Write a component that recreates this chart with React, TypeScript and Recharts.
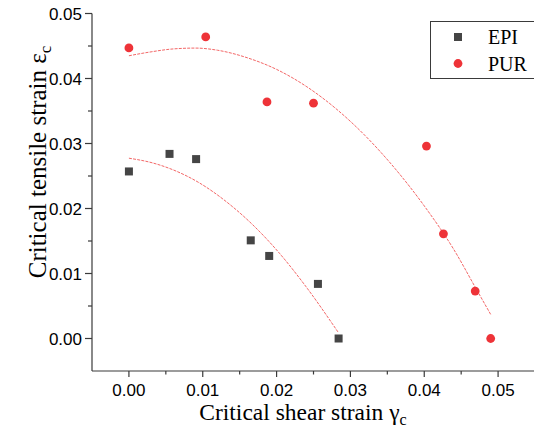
import React from 'react';
import { ScatterChart, Scatter, XAxis, YAxis, Legend } from 'recharts';

// measured points
const epiShear = [0, 0.0055, 0.0091, 0.0165, 0.019, 0.0256, 0.0284];
const epiTensile = [0.0257, 0.0284, 0.0276, 0.0151, 0.0127, 0.0084, 0.0];
const purShear = [0, 0.0104, 0.0187, 0.025, 0.0403, 0.0426, 0.0469, 0.049];
const purTensile = [0.0447, 0.0464, 0.0364, 0.0362, 0.0296, 0.0161, 0.0073, 0.0];

// fitted curves
const epiFitShear = [0, 0.00325, 0.006, 0.0096, 0.0132, 0.0168, 0.0204, 0.024, 0.0284];
const epiFitTensile = [0.02774, 0.027, 0.02594, 0.0239, 0.02104, 0.01746, 0.0131, 0.00795, 0.00086];
const purFitShear = [0, 0.003, 0.006, 0.009, 0.012, 0.016, 0.02, 0.024, 0.028, 0.032, 0.036, 0.04, 0.044, 0.047, 0.049];
const purFitTensile = [0.0435, 0.0441, 0.04455, 0.04468, 0.04435, 0.0432, 0.0414, 0.0388, 0.0354, 0.0312, 0.0262, 0.0204, 0.0137, 0.0077, 0.0037];

const xTicks = [0, 0.005, 0.01, 0.015, 0.02, 0.025, 0.03, 0.035, 0.04, 0.045, 0.05, 0.055];
const yTicks = [0, 0.005, 0.01, 0.015, 0.02, 0.025, 0.03, 0.035, 0.04, 0.045, 0.05];

const zip = (xs: number[], ys: number[]) => xs.map((x, i) => ({ x, y: ys[i] }));

const epiData = zip(epiShear, epiTensile);
const purData = zip(purShear, purTensile);
const epiFit = zip(epiFitShear, epiFitTensile);
const purFit = zip(purFitShear, purFitTensile);

const AXIS = '#3a3a3a';
const GRAY = '#454545';
const RED = '#ee3338';
const FIT = '#f05555';
const SANS = '"Liberation Sans", Arial, sans-serif';
const SERIF = '"Liberation Serif", "Times New Roman", serif';

const isMajor = (v: number) => Math.round(v * 1000) % 10 === 0;

const XTick = (props: any) => {
  const { x, y, payload } = props;
  const major = isMajor(payload.value);
  return (
    <g>
      <line x1={x} x2={x} y1={y} y2={y + (major ? 6 : 3.5)} stroke={AXIS} strokeWidth={1.2} />
      {major && (
        <text x={x} y={y + 24.5} textAnchor="middle" fontFamily={SANS} fontSize={17} fill="#000">
          {payload.value.toFixed(2)}
        </text>
      )}
    </g>
  );
};

const YTick = (props: any) => {
  const { x, y, payload } = props;
  const major = isMajor(payload.value);
  return (
    <g>
      <line x1={x - (major ? 7 : 4)} x2={x} y1={y} y2={y} stroke={AXIS} strokeWidth={1.2} />
      {major && (
        <text x={x - 10} y={y + 6.5} textAnchor="end" fontFamily={SANS} fontSize={17} fill="#000">
          {payload.value.toFixed(2)}
        </text>
      )}
    </g>
  );
};

const Square = (props: any) => (
  <rect x={props.cx - 4} y={props.cy - 4} width={8} height={8} fill={GRAY} />
);
const Dot = (props: any) => <circle cx={props.cx} cy={props.cy} r={4.4} fill={RED} />;
const NoMark = () => <g />;

const LegendBox = () => (
  <svg width={106} height={60} style={{ display: 'block' }}>
    <rect x={0.5} y={0.5} width={110} height={57} fill="#fff" stroke={AXIS} strokeWidth={1} />
    <rect x={24} y={12} width={8} height={8} fill={GRAY} />
    <text x={58} y={23} fontFamily={SERIF} fontSize={20} fill="#000">EPI</text>
    <circle cx={28} cy={42.5} r={4.4} fill={RED} />
    <text x={58} y={49.5} fontFamily={SERIF} fontSize={20} fill="#000">PUR</text>
  </svg>
);

export default function App() {
  return (
    <div style={{ position: 'absolute', left: 0, top: 0, width: 534, height: 444, overflow: 'hidden', background: '#fff' }}>
      <ScatterChart width={540} height={444} margin={{ top: 13.5, right: 5, bottom: 0, left: 0 }}>
        <XAxis
          type="number"
          dataKey="x"
          domain={[-0.005, 0.055]}
          allowDataOverflow
          ticks={xTicks}
          interval={0}
          tick={<XTick />}
          tickLine={false}
          tickSize={0}
          tickMargin={0}
          height={73}
          axisLine={{ stroke: AXIS, strokeWidth: 1.2 }}
        />
        <YAxis
          type="number"
          dataKey="y"
          domain={[-0.005, 0.05]}
          allowDataOverflow
          ticks={yTicks}
          interval={0}
          tick={<YTick />}
          tickLine={false}
          tickSize={0}
          tickMargin={0}
          width={92}
          axisLine={{ stroke: AXIS, strokeWidth: 1.2 }}
        />
        <Legend
          layout="vertical"
          align="center"
          verticalAlign="middle"
          content={<LegendBox />}
          wrapperStyle={{ left: 430, top: 21, width: 106, height: 60 }}
        />
        <Scatter
          name="EPI fit"
          data={epiFit}
          shape={<NoMark />}
          line={{ stroke: FIT, strokeWidth: 0.9, strokeDasharray: '3 1.2' }}
          lineType="joint"
          lineJointType="monotoneX"
          legendType="none"
          isAnimationActive={false}
        />
        <Scatter
          name="PUR fit"
          data={purFit}
          shape={<NoMark />}
          line={{ stroke: FIT, strokeWidth: 0.9, strokeDasharray: '3 1.2' }}
          lineType="joint"
          lineJointType="monotoneX"
          legendType="none"
          isAnimationActive={false}
        />
        <Scatter name="EPI" data={epiData} shape={<Square />} isAnimationActive={false} />
        <Scatter name="PUR" data={purData} shape={<Dot />} isAnimationActive={false} />
      </ScatterChart>
      <svg width={534} height={444} style={{ position: 'absolute', left: 0, top: 0, pointerEvents: 'none' }}>
        <text x={303} y={420} textAnchor="middle" fontFamily={SERIF} fontSize={23.5} fill="#000">
          Critical shear strain γ<tspan fontSize={16} dy={5}>c</tspan>
        </text>
        <text
          transform="translate(46,162) rotate(-90)"
          textAnchor="middle"
          fontFamily={SERIF}
          fontSize={25}
          fill="#000"
        >
          Critical tensile strain ε<tspan fontSize={17} dy={5}>c</tspan>
        </text>
      </svg>
    </div>
  );
}
